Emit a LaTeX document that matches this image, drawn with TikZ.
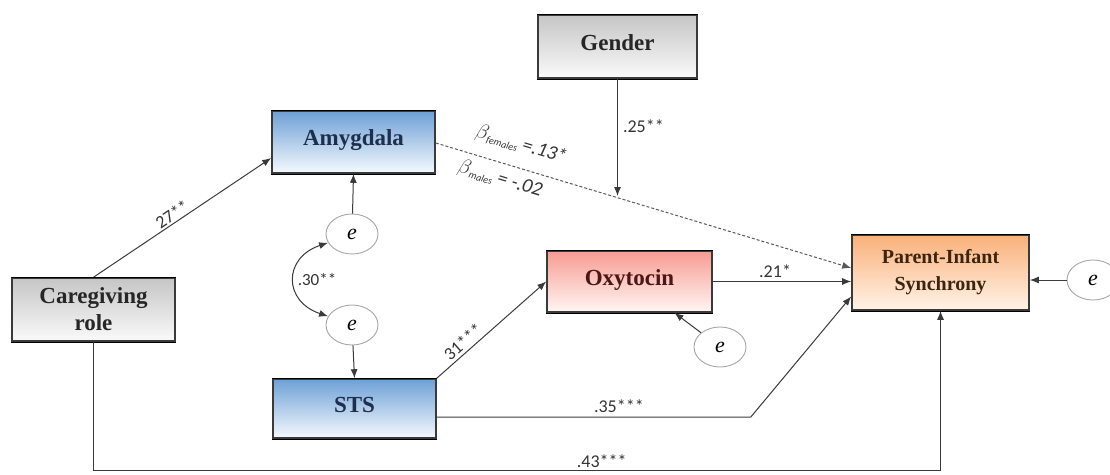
\documentclass[tikz,border=0pt]{standalone}
\usepackage{fontspec}
\setmainfont{Liberation Serif}
\newfontfamily\labelfont{Carlito}
\usetikzlibrary{arrows.meta,calc,shapes.geometric}
\definecolor{edgegray}{HTML}{3A3A3A}
\definecolor{navytext}{HTML}{1E2F4D}
\definecolor{redtext}{HTML}{4A1616}
\definecolor{browntext}{HTML}{3C2410}
\tikzset{
  varbox/.style={draw=edgegray, line width=1.6pt, rectangle, align=center,
    font=\bfseries\fontsize{23}{27}\selectfont, inner sep=0pt,
    append after command={
      [line width=2.6pt, draw=edgegray!90!black]
      (\tikzlastnode.north west) edge[-] (\tikzlastnode.north east)
      (\tikzlastnode.south west) edge[-] (\tikzlastnode.south east)}},
  graybox/.style={varbox, top color=gray!45, bottom color=gray!4, text=black!85},
  bluebox/.style={varbox, top color={rgb,255:red,110;green,160;blue,214},
    bottom color={rgb,255:red,245;green,249;blue,253}, text=navytext},
  errnode/.style={draw=gray!70, line width=0.9pt, ellipse, minimum width=52pt, minimum height=40pt,
    inner sep=0pt, font=\itshape\fontsize{22}{24}\selectfont},
  path/.style={draw=edgegray, line width=1pt, -{Latex[length=9pt,width=7pt]}},
  lbl/.style={font=\labelfont\fontsize{18}{20}\selectfont, text=black!80, inner sep=1pt},
}
\begin{document}
\begin{tikzpicture}[x=1pt,y=-1pt]
\useasboundingbox (0,0) rectangle (1110,474);
% observed variables
\node[graybox, minimum width=159pt, minimum height=63pt] (gender) at (617.5,46.5) {\raisebox{8pt}{Gender}};
\node[bluebox, minimum width=163pt, minimum height=62pt] (amy) at (353.5,142) {\raisebox{8pt}{Amygdala}};
\node[graybox, minimum width=163pt, minimum height=63pt] (care) at (93.5,309.5) {Caregiving\\role};
\node[bluebox, minimum width=163pt, minimum height=59pt] (sts) at (354.5,408.5) {\raisebox{8pt}{STS}};
\node[varbox, minimum width=165pt, minimum height=61pt, top color={rgb,255:red,246;green,156;blue,146},
  bottom color={rgb,255:red,255;green,246;blue,244}, text=redtext] (oxy) at (629.5,281.5) {\raisebox{8pt}{Oxytocin}};
\node[varbox, minimum width=177pt, minimum height=75pt, top color={rgb,255:red,249;green,176;blue,122},
  bottom color={rgb,255:red,255;green,244;blue,232}, text=browntext,
  font=\bfseries\fontsize{20}{27}\selectfont] (pis) at (940.5,272.5) {Parent-Infant\\Synchrony};
% error terms
\node[errnode] (e1) at (352,234) {e};
\node[errnode] (e2) at (352,325) {e};
\node[errnode] (e3) at (720,347) {e};
\node[errnode] (e4) at (1093,280) {e};
% structural paths
\draw[path] (care.north) -- node[lbl, sloped, above=1pt, pos=0.47] {27**} ([yshift=-16pt]amy.west);
\draw[path] (care.south) -- ++(0,129) coordinate (cbend) -| node[lbl, pos=0.3, above=2pt] {.43***} (pis.south);
\draw[path] (sts.north east) -- node[lbl, sloped, above=2pt, pos=0.3] {31***} (oxy.west);
\draw[path] ([yshift=-8.5pt]sts.east) -- ++(314,0) coordinate (sbend)
  node[lbl, pos=0.58, above=3pt] {.35***} -- ([yshift=-24pt]pis.west);
\draw[path] (oxy.east) -- node[lbl, above=2pt, pos=0.45] {.21*} (oxy.east -| pis.west);
\draw[draw=gray!70!black, line width=1pt, dash pattern=on 3pt off 2pt, -{Latex[length=9pt,width=7pt]}]
  ([yshift=-1pt]amy.east) -- ([yshift=4.5pt]pis.west);
% moderation by gender
\coordinate (moder) at (617.5,196);
\draw[path] (gender.south) -- node[lbl, right=4pt, pos=0.4] {.25**} (moder);
\node[lbl, rotate=-17, font=\labelfont\itshape\fontsize{20}{22}\selectfont] (bf) at (521,145)
  {$\beta$\raisebox{-3pt}{\fontsize{10}{11}\selectfont females} =.13*};
\node[lbl, rotate=-17, font=\labelfont\itshape\fontsize{20}{22}\selectfont] (bm) at (500,179)
  {$\beta$\raisebox{-3pt}{\fontsize{10}{11}\selectfont males} = -.02};
% residuals
\draw[path] (e1) -- (amy.south);
\draw[path] (e2) -- (sts.north);
\draw[path] (e3) -- ([xshift=45pt]oxy.south);
\draw[path] (e4) -- (e4 -| pis.east);
\draw[draw=edgegray, line width=1pt, {Latex[length=9pt,width=7pt]}-{Latex[length=9pt,width=7pt]}]
  (e1.200) .. controls +(-45,15) and +(-45,-15) .. (e2.160)
  node[lbl, pos=0.5, right=2pt, font=\labelfont\fontsize{17}{19}\selectfont] {.30**};
\end{tikzpicture}
\end{document}
